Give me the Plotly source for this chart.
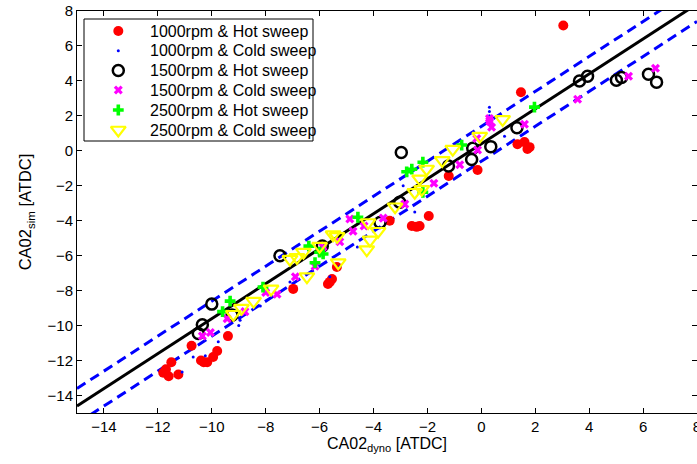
import plotly.graph_objects as go

# CA02 sim vs dyno
hot1000_x = [3.04, 1.47, 1.34, 1.6, 1.79, 1.71, -0.14, -1.21, -1.95, -2.58, -2.4, -2.29, -3.4,
             -5.36, -5.54, -5.69, -5.62, -6.98, -9.4, -10.75, -9.8, -9.95, -10.17, -10.4, -10.3,
             -11.5, -11.7, -11.6, -11.24, -11.8]
hot1000_y = [7.17, 3.35, 0.38, 0.5, 0.21, 0.1, -1.1, -1.44, -3.73, -4.3, -4.35, -4.3, -4.0,
             -6.65, -7.33, -7.62, -7.5, -7.9, -10.6, -11.15, -11.45, -11.8, -12.1, -12.0, -12.1,
             -12.1, -12.5, -12.9, -12.8, -12.7]

cold1000_x = [-11.1, -10.69, -10.24, -9.76, -9.0, -8.95, -8.2, -7.1, -5.62, -5.25, -4.6, -2.9,
              -2.47, 0.86, 0.3, 0.3, 0.3, 0.3, 0.3]
cold1000_y = [-12.65, -11.8, -11.73, -10.93, -10.0, -9.7, -8.88, -7.5, -7.2, -6.6, -5.5, -2.0,
              -3.5, 0.84, 1.5, 1.75, 2.0, 2.25, 2.5]

hot1500_x = [3.64, 3.94, 5.01, 5.2, 6.2, 6.5, 1.32, 0.35, -0.32, -0.36, -2.97, -1.22, -3.03,
             -3.76, -5.9, -7.47, -10.0, -10.35, -10.5, -9.25]
hot1500_y = [3.99, 4.27, 4.04, 4.2, 4.38, 3.93, 1.32, 0.24, 0.15, -0.5, -0.1, -0.87, -2.94,
             -4.1, -5.45, -6.0, -8.77, -9.95, -10.45, -9.4]

cold1500_x = [3.57, 5.46, 6.46, 1.6, 0.31, 0.38, 0.3, -0.17, -0.14, -0.8, -1.76, -2.84, -3.64,
              -4.35, -4.76, -4.88, -5.25, -5.87, -6.17, -6.9, -7.58, -8.0, -8.77, -9.43, -10.05,
              -10.35]
cold1500_y = [2.95, 4.27, 4.72, 1.52, 1.7, 1.35, 1.85, 0.7, 0.05, -0.8, -1.85, -3.05, -3.85,
              -4.3, -4.6, -3.9, -5.2, -5.5, -6.6, -7.2, -8.2, -8.1, -9.2, -9.6, -10.4, -10.6]

hot2500_x = [1.97, -0.73, -2.77, -2.58, -2.17, -2.17, -4.58, -5.87, -6.17, -6.0, -6.4, -8.1,
             -9.32, -9.6]
hot2500_y = [2.5, 0.33, -1.2, -1.05, -0.65, -2.37, -3.8, -5.9, -6.4, -5.8, -5.45, -7.8,
             -8.6, -9.2]

cold2500_x = [0.79, -0.06, -1.06, -1.45, -2.03, -2.29, -2.47, -2.21, -3.2, -4.2, -3.83, -4.13,
              -4.25, -5.35, -5.5, -5.31, -6.0, -6.6, -6.84, -7.1, -6.47, -7.8, -8.45, -8.9, -9.2]
cold2500_y = [1.8, 0.84, 0.1, -0.55, -1.04, -1.6, -2.37, -2.2, -3.2, -4.1, -4.6, -5.1,
              -5.65, -4.9, -4.8, -6.4, -5.45, -5.8, -6.1, -6.2, -7.2, -7.9, -8.6, -9.0, -9.35]

# mean offset line and +/- band
fit_x = [-15, 8]
fit_offset = 0.4
band = 1.0

series = [
    ('1000rpm & Hot sweep', hot1000_x, hot1000_y,
     dict(symbol='circle', size=10, color='#ff0000')),
    ('1000rpm & Cold sweep', cold1000_x, cold1000_y,
     dict(symbol='circle', size=3, color='#0000ff')),
    ('1500rpm & Hot sweep', hot1500_x, hot1500_y,
     dict(symbol='circle-open', size=11, color='black', line=dict(width=2.5))),
    ('1500rpm & Cold sweep', cold1500_x, cold1500_y,
     dict(symbol='x', size=8, color='#ff00ff')),
    ('2500rpm & Hot sweep', hot2500_x, hot2500_y,
     dict(symbol='cross', size=9, color='#00ff00')),
    ('2500rpm & Cold sweep', cold2500_x, cold2500_y,
     dict(symbol='triangle-down-open', size=13, color='#ffff00', line=dict(width=2.2))),
]

fig = go.Figure()

fig.add_trace(go.Scatter(x=fit_x, y=[v + fit_offset + band for v in fit_x], mode='lines',
                         line=dict(color='#0000ff', width=3, dash='10px,6px'), showlegend=False))
fig.add_trace(go.Scatter(x=fit_x, y=[v + fit_offset - band for v in fit_x], mode='lines',
                         line=dict(color='#0000ff', width=3, dash='10px,6px'), showlegend=False))
fig.add_trace(go.Scatter(x=fit_x, y=[v + fit_offset for v in fit_x], mode='lines',
                         line=dict(color='black', width=3), showlegend=False))

for name, xs, ys, mk in series:
    fig.add_trace(go.Scatter(x=xs, y=ys, mode='markers', name=name, marker=mk, showlegend=False))

# matlab-style legend box, drawn by hand (plot-area pixel units on x2/y2)
W, H = 620, 402
leg_left, leg_right, leg_top, leg_bot = 7, 236, 394, 272
row_y = [382, 362.3, 342.5, 323, 303, 283]
sym_x = 41.3
txt_x = 70.5

fig.add_shape(type='rect', xref='paper', yref='paper',
              x0=leg_left / W, x1=leg_right / W, y0=leg_bot / H, y1=leg_top / H,
              line=dict(color='black', width=1), fillcolor='white', layer='below')
for (name, xs, ys, mk), ry in zip(series, row_y):
    fig.add_trace(go.Scatter(x=[sym_x], y=[ry], xaxis='x2', yaxis='y2', mode='markers',
                             marker=mk, showlegend=False, hoverinfo='skip'))
    fig.add_annotation(text=name, xref='paper', yref='paper', x=txt_x / W, y=ry / H,
                       xanchor='left', yanchor='middle', showarrow=False,
                       font=dict(size=16, color='black'))

axis_style = dict(showline=True, linecolor='black', linewidth=1, mirror='ticks',
                  ticks='inside', ticklen=5, tickcolor='black', showgrid=False,
                  zeroline=False, tickfont=dict(size=15, color='black'), automargin=False,
                  ticklabeloverflow='allow')

fig.update_layout(
    width=697, height=464,
    margin=dict(l=77, r=0, t=11, b=51),
    plot_bgcolor='white', paper_bgcolor='white',
    font=dict(family='Liberation Sans, Arial, sans-serif', color='black'),
    showlegend=False,
    xaxis=dict(range=[-15, 8], dtick=2, tick0=0,
               title=dict(text='CA02<sub>dyno</sub> [ATDC]', font=dict(size=16), standoff=2),
               **axis_style),
    yaxis=dict(range=[-15, 8], dtick=2, tick0=0,
               title=dict(text='CA02<sub>sim</sub> [ATDC]', font=dict(size=16.5), standoff=11),
               **axis_style),
    xaxis2=dict(range=[0, W], overlaying='x', visible=False, fixedrange=True),
    yaxis2=dict(range=[0, H], overlaying='y', visible=False, fixedrange=True),
)

# browser default body margin would shift the figure by 8px
fig.write_html("out.html", config={'displayModeBar': False},
               post_script="document.body.style.margin='0';")
